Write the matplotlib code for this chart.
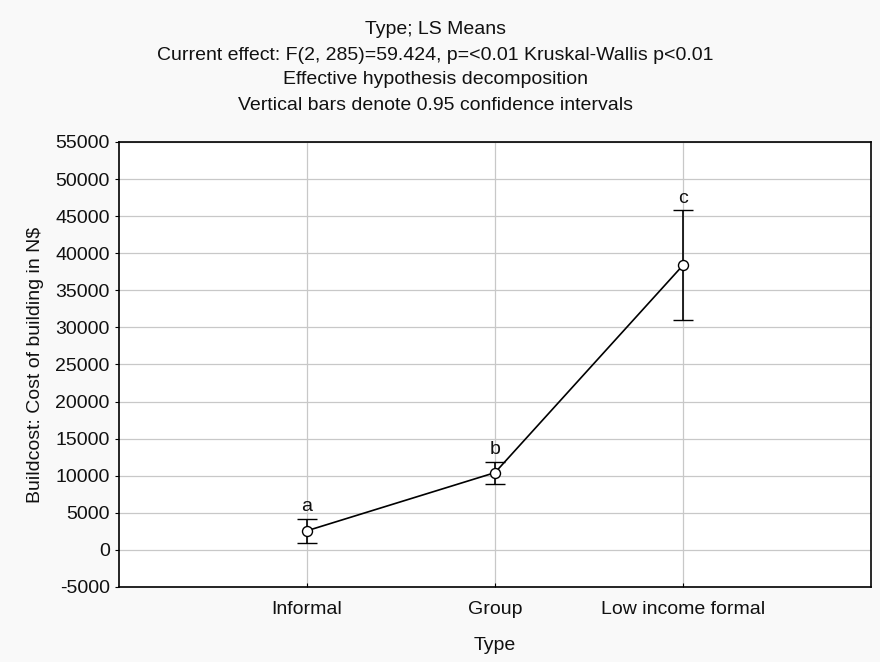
import numpy as np
import matplotlib.pyplot as plt

plt.rcParams['font.family'] = ['Liberation Sans', 'DejaVu Sans']
plt.rcParams['axes.unicode_minus'] = False

types = ['Informal', 'Group', 'Low income formal']
means = [2580, 10420, 38400]
ci = [1600, 1480, 7400]
letters = ['a', 'b', 'c']

fs = 14

fig = plt.figure(figsize=(8.8, 6.62), dpi=100, facecolor='#f9f9f9')
ax = fig.add_axes([0.135, 0.1133, 0.855, 0.6722])
ax.set_facecolor('white')

x = np.arange(1, len(types) + 1)
ax.errorbar(x, means, yerr=ci, color='black', lw=1.2, capsize=7,
            capthick=1.2, marker='o', markersize=7.2, markerfacecolor='white',
            markeredgecolor='black', markeredgewidth=1.0, zorder=3)

for xi, m, c, l in zip(x, means, ci, letters):
    ax.text(xi, m + c + 500, l, ha='center', va='bottom', fontsize=fs, color='#111111')

ax.set_xlim(0, 4)
ax.set_ylim(-5000, 55000)
ax.set_yticks(np.arange(-5000, 55001, 5000))
ax.set_xticks(x)
ax.set_xticklabels(types)
ax.grid(True, color='#c8c8c8', lw=0.9)
ax.set_axisbelow(True)
ax.tick_params(axis='both', labelsize=fs, length=3, color='black', labelcolor='#111111')
ax.tick_params(axis='x', direction='in', pad=10)
for s in ax.spines.values():
    s.set_linewidth(1.2)

ax.set_xlabel('Type', fontsize=fs, labelpad=14, color='#111111')
ax.set_ylabel('Buildcost: Cost of building in N$', fontsize=fs, labelpad=8, color='#111111')

title_lines = ['Type; LS Means',
               'Current effect: F(2, 285)=59.424, p=<0.01 Kruskal-Wallis p<0.01',
               'Effective hypothesis decomposition',
               'Vertical bars denote 0.95 confidence intervals']
for i, t in enumerate(title_lines):
    fig.text(0.495, 1 - (30 + 25 * i) / 662, t, ha='center', va='center',
             fontsize=fs, color='#111111')

fig.savefig('out.png', dpi=100, facecolor=fig.get_facecolor())
